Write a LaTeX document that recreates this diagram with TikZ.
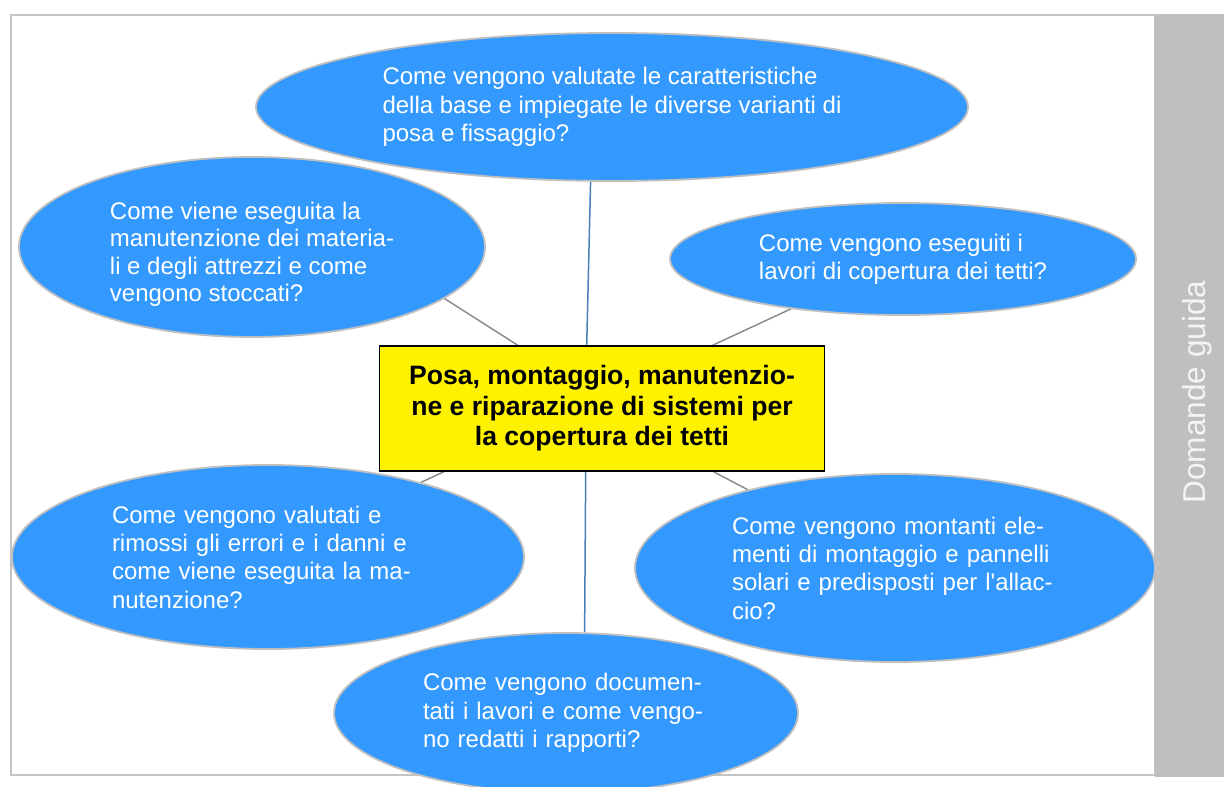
\documentclass[tikz,border=0pt]{standalone}
\usepackage{fontspec}
\newfontfamily\arialf{Liberation Sans}
\usetikzlibrary{shapes.geometric,calc,backgrounds}
\definecolor{bub}{HTML}{3399FF}
\definecolor{bubline}{HTML}{BFBFBF}
\definecolor{band}{HTML}{BFBFBF}
\definecolor{frameline}{HTML}{C4C4C4}
\definecolor{conngray}{HTML}{8C8C8C}
\definecolor{connblue}{HTML}{4A7EBB}
\definecolor{bandtext}{HTML}{F4F4F4}
\begin{document}
\begin{tikzpicture}[x=0.5pt,y=-0.5pt,
  bubble/.style={ellipse, fill=bub, draw=bubline, line width=0.9pt, text=white,
    align=left, inner sep=0pt, font=\arialf\fontsize{12}{14.15}\selectfont},
  hub/.style={rectangle, fill=yellow, draw=black, line width=0.8pt, align=center,
    inner sep=0pt, font=\arialf\bfseries\fontsize{13.3}{15.3}\selectfont},
  conn/.style={draw=conngray, line width=0.75pt},
  connb/.style={draw=connblue, line width=0.75pt}]
\useasboundingbox (0,0) rectangle (1224,786);
\clip (0,0) rectangle (1224,786);
% frame and side band
\draw[frameline, line width=1pt] (11,15) rectangle (1155,775);
\fill[band] (1155,14) rectangle (1224,777);
\node[rotate=90, text=bandtext, inner sep=0pt,
  font=\arialf\fontsize{15.8}{18}\selectfont] (dg) at (1197,392) {Domande guida};
% central box
\node[hub, minimum width=222.5pt, minimum height=62.5pt] (hub) at (602,408.5)
  {Posa, montaggio, manutenzio-\\ne e riparazione di sistemi per\\la copertura dei tetti};
% bubbles
\node[bubble, minimum width=356pt, minimum height=74pt] (top) at (612,107)
  {Come vengono valutate le caratteristiche\\della base e impiegate le diverse varianti di\\posa e fissaggio?};
\node[bubble, minimum width=233pt, minimum height=90pt,
  font=\arialf\fontsize{12}{13.6}\selectfont] (ul) at (252,247)
  {\rule{0pt}{16pt}Come viene eseguita la\\manutenzione dei materia-\\li e degli attrezzi e come\\vengono stoccati?};
\node[bubble, minimum width=233pt, minimum height=56pt] (ur) at (903,259)
  {Come vengono eseguiti i\\lavori di copertura dei tetti?};
\node[bubble, minimum width=256pt, minimum height=92pt, text width=156pt] (ll) at (268,557)
  {Come vengono valutati e\\rimossi gli errori e i danni e\\come viene eseguita la ma-\\nutenzione?};
\node[bubble, minimum width=260pt, minimum height=94pt, text width=163pt] (lr) at (895,568)
  {Come vengono montanti ele-\\menti di montaggio e pannelli\\solari e predisposti per l'allac-\\cio?};
\node[bubble, minimum width=232pt, minimum height=80pt, text width=143pt] (bot) at (566,713)
  {Come vengono documen-\\tati i lavori e come vengo-\\no redatti i rapporti?};
% connectors
\begin{scope}[on background layer]
\draw[connb] ($(hub.north west)+(208,0)$) -- (top.254);
\draw[conn]  ($(hub.north west)+(139,0)$) -- (ul.-15);
\draw[conn]  ($(hub.north west)+(334,0)$) -- (ur.204);
\draw[conn]  ($(hub.south west)+(65,0)$) -- (ll.26);
\draw[conn]  ($(hub.south west)+(335,0)$) -- (lr.152);
\draw[connb] ($(hub.south west)+(207,0)$) -- (bot.77.5);
\end{scope}
\end{tikzpicture}
\end{document}
